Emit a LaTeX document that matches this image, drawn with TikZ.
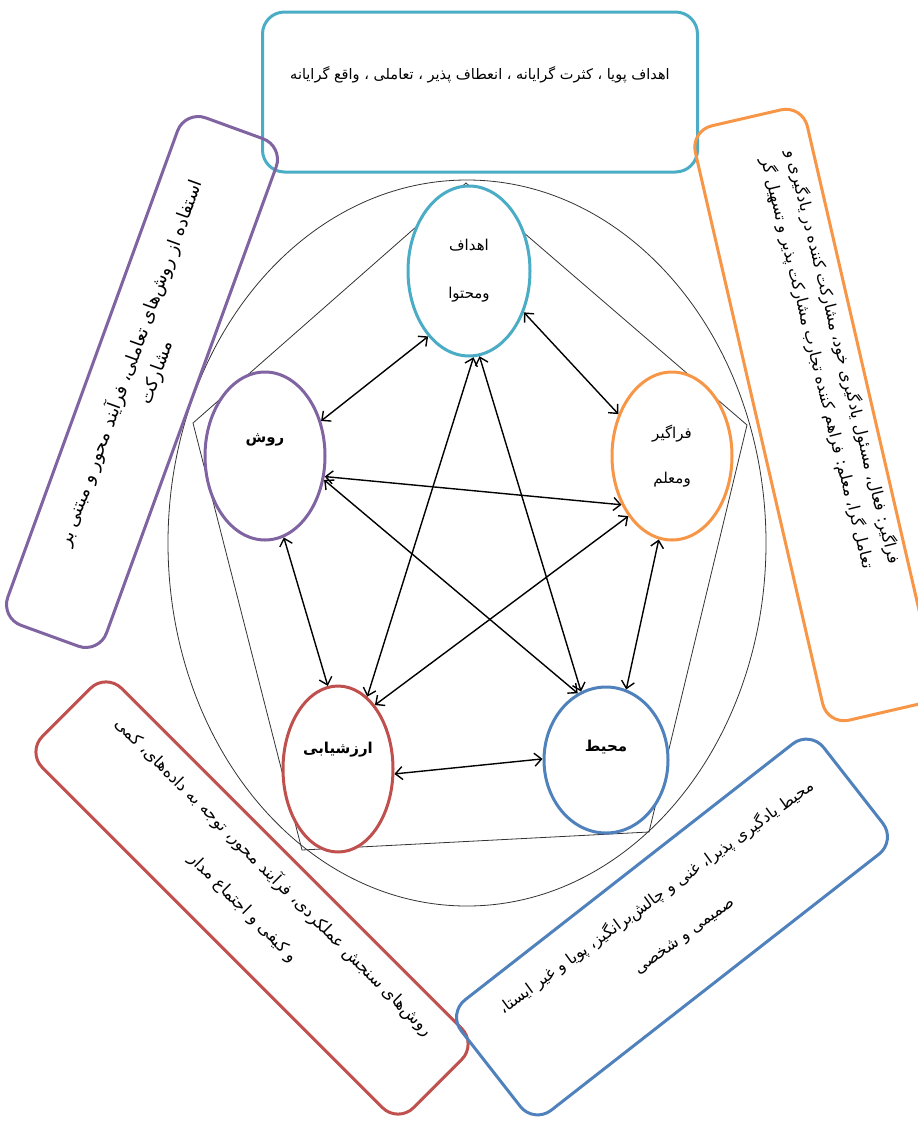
\documentclass[tikz,border=0pt]{standalone}
\usepackage{fontspec}
\newfontfamily\persian[Script=Arabic]{DejaVu Sans}
\TeXXeTstate=1
\usetikzlibrary{shapes.geometric,arrows.meta}
\newcommand{\rtl}[1]{\beginR #1\endR}
\definecolor{goalcyan}{RGB}{75,172,198}
\definecolor{methodpurple}{RGB}{128,100,162}
\definecolor{learnerorange}{RGB}{247,150,70}
\definecolor{assessred}{RGB}{192,80,77}
\definecolor{envblue}{RGB}{79,129,189}
\tikzset{
  circ/.style={ellipse, draw, line width=3pt, fill=white, inner sep=0pt,
    font=\persian\fontsize{15}{18}\selectfont},
  circlabel/.style={font=\persian\bfseries\fontsize{15}{18}\selectfont},
  infobox/.style={draw, rounded corners=22pt, line width=3pt, inner sep=0pt},
  boxtext/.style n args={2}{align=center, font=\persian\fontsize{#1}{#2}\selectfont},
  link/.style={{Straight Barb[length=7pt,width=13pt]}-{Straight Barb[length=7pt,width=13pt]}, line width=1.4pt},
  frame/.style={line width=0.8pt, draw=black!80}
}
\begin{document}
\begin{tikzpicture}[x=1pt,y=-1pt]
\useasboundingbox (0,0) rectangle (918,1130);

% outer ellipse and pentagon
\draw[frame] (467,543) ellipse [x radius=299, y radius=363];
\draw[frame] (466,183) -- (747,425) -- (649,832) -- (302,850) -- (193,423) -- cycle;

% description boxes
\node[infobox, draw=goalcyan, minimum width=435, minimum height=160] (goalbox) at (480,92) {};
\node[boxtext={14.5}{18}] (goaltext) at (480,75) {\rtl{اهداف پویا ، کثرت گرایانه ، انعطاف پذیر ، تعاملی ، واقع گرایانه}};

\node[infobox, draw=methodpurple, minimum width=540, minimum height=105, rotate=70] (methodbox) at (142,382) {};
\node[boxtext={18}{22}, rotate=70] (methodtext) at (143,368) {\rtl{استفاده از روش‌های تعاملی، فرآیند محور و مبتنی بر}\\[5pt]\rtl{مشارکت}};

\node[infobox, draw=learnerorange, minimum width=610, minimum height=115, rotate=-77] (learnerbox) at (815,415) {};
\node[boxtext={16}{20}, rotate=-76] (learnertext) at (830,360) {\rtl{فراگیر: فعال، مسئول یادگیری خود، مشارکت کننده در یادگیری و}\\[6pt]\rtl{تعامل گرا، معلم: فراهم کننده تجارب مشارکت پذیر و تسهیل گر}};

\node[infobox, draw=assessred, minimum width=525, minimum height=112, rotate=-45] (assessbox) at (252,898) {};
\node[boxtext={16.5}{20}, rotate=-45] (assesstext) at (259,892) {\rtl{روش‌های سنجش عملکردی، فرآیند محور، توجه به داده‌های، کمی}\\[23pt]\rtl{و کیفی و اجتماع مدار}};

\node[infobox, draw=envblue, minimum width=460, minimum height=140, rotate=38] (envbox) at (672,927) {};
\node[boxtext={16}{20}, rotate=36] (envtext) at (670,916) {\rtl{محیط یادگیری پذیرا، غنی و چالش‌برانگیز، پویا و غیر ایستا،}\\[27pt]\rtl{صمیمی و شخصی}};

% the five elements
\node[circ, draw=goalcyan, minimum width=122, minimum height=170, align=center] (goal) at (469,271) {\rtl{اهداف}\\[30pt]\rtl{ومحتوا}};
\node[circ, draw=methodpurple, minimum width=120, minimum height=168,
  label={[circlabel, yshift=16pt]center:\rtl{روش}}] (method) at (265,456) {};
\node[circ, draw=learnerorange, minimum width=120, minimum height=168, align=center] (learner) at (672,456) {\rtl{فراگیر}\\[27pt]\rtl{ومعلم}};
\node[circ, draw=assessred, minimum width=110, minimum height=166,
  label={[circlabel, yshift=19pt]center:\rtl{ارزشیابی}}] (assess) at (338,769) {};
\node[circ, draw=envblue, minimum width=124, minimum height=146,
  label={[circlabel, yshift=13pt]center:\rtl{محیط}}] (env) at (606,760) {};

% links between elements
\draw[link] (goal.238) -- (method.32);
\draw[link] (goal.323) -- (learner.142);
\draw[link] (goal.273) -- (assess.68);
\draw[link] (goal.277) -- (env.110);
\draw[link] (method.341) -- (learner.224);
\draw[link] (method.338) -- (env.113);
\draw[link] (method.283) -- (assess.97);
\draw[link] (learner.234) -- (assess.60);
\draw[link] (learner.261) -- (env.74);
\draw[link] (assess.355) -- (env.179);
\end{tikzpicture}
\end{document}
